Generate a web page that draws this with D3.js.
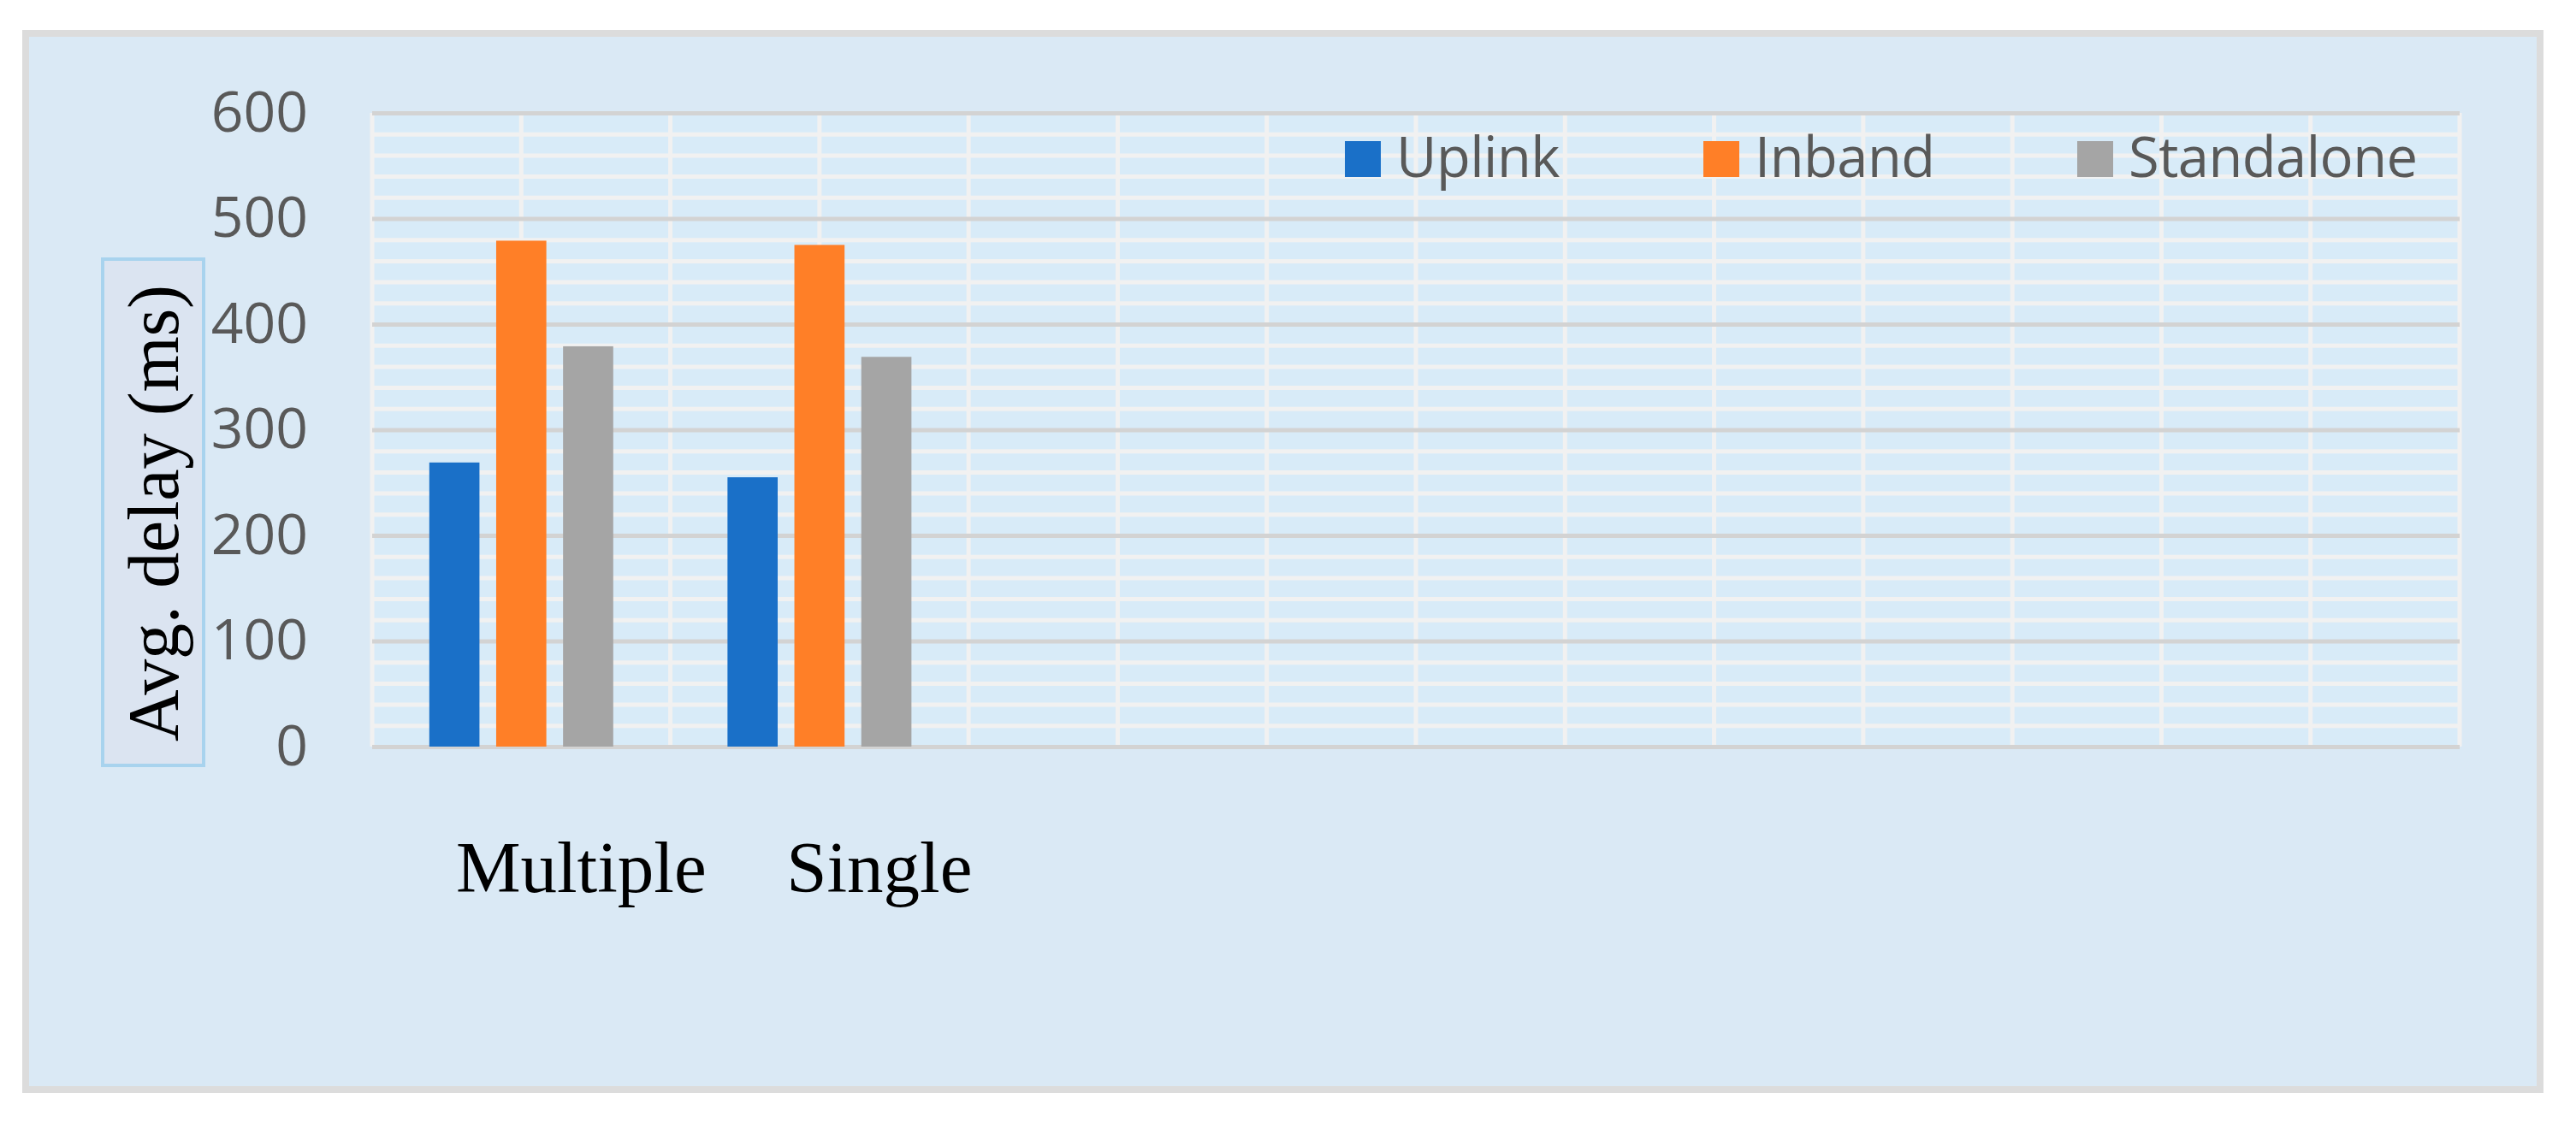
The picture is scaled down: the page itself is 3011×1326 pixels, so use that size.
<!DOCTYPE html>
<html>
<head>
<meta charset="utf-8">
<script src="https://cdn.jsdelivr.net/npm/d3@7"></script>
<style>
  html, body { margin: 0; padding: 0; background: #ffffff; }
  svg { display: block; }
</style>
</head>
<body>
<svg id="chart" width="3011" height="1326"></svg>
<script>
// data
var categories = ["Multiple", "Single"];
var series = ["Uplink", "Inband", "Standalone"];
var uplink = [269, 255];
var inband = [479, 475];
var standalone = [379, 369];
var yTicks = [0, 100, 200, 300, 400, 500, 600];
var slotCount = 7; // the category axis has room for 7 groups, only 2 used

var colors = { Uplink: "#1a70c8", Inband: "#ff7f27", Standalone: "#a5a5a5" };
var values = { Uplink: uplink, Inband: inband, Standalone: standalone };

var svg = d3.select("#chart");

var plot = { left: 435, right: 2875, top: 132, bottom: 873 };

// outer frame
svg.append("rect")
  .attr("x", 30).attr("y", 39)
  .attr("width", 2939).attr("height", 1235)
  .attr("fill", "#dae9f5")
  .attr("stroke", "#dcdcdc")
  .attr("stroke-width", 8);

var x0 = d3.scaleBand()
  .domain(d3.range(slotCount))
  .range([plot.left, plot.right])
  .padding(0);

var groupWidth = 215;
var x1 = d3.scaleBand()
  .domain(series)
  .range([0, groupWidth])
  .paddingInner(0.25);

var y = d3.scaleLinear()
  .domain([0, 600])
  .range([plot.bottom, plot.top]);

// plot background
svg.append("rect")
  .attr("x", plot.left).attr("y", plot.top)
  .attr("width", plot.right - plot.left).attr("height", plot.bottom - plot.top)
  .attr("fill", "#d8ebf8");

// minor horizontal grid (every 20)
var minor = d3.range(0, 601, 20).filter(function(v) { return v % 100 !== 0; });
svg.append("g")
  .attr("transform", "translate(" + plot.left + ",0)")
  .call(d3.axisLeft(y).tickValues(minor).tickSize(-(plot.right - plot.left)).tickFormat(""))
  .call(function(g) {
    g.select(".domain").remove();
    g.selectAll(".tick line").attr("stroke", "#f1f1f1").attr("stroke-width", 5);
  });

// vertical grid: band edges and band centres
var vx = [];
d3.range(slotCount).forEach(function(i) {
  vx.push(x0(i));
  vx.push(x0(i) + x0.bandwidth() / 2);
});
vx.push(plot.right);
svg.append("g").selectAll("line")
  .data(vx)
  .join("line")
  .attr("x1", function(d) { return d; })
  .attr("x2", function(d) { return d; })
  .attr("y1", plot.top)
  .attr("y2", plot.bottom)
  .attr("stroke", "#f1f1f1")
  .attr("stroke-width", 5);

// major horizontal grid
svg.append("g")
  .attr("transform", "translate(" + plot.left + ",0)")
  .call(d3.axisLeft(y).tickValues(yTicks).tickSize(-(plot.right - plot.left)).tickFormat(""))
  .call(function(g) {
    g.select(".domain").remove();
    g.selectAll(".tick line").attr("stroke", "#d3d3d3").attr("stroke-width", 5);
  });

// y tick labels
svg.append("g")
  .attr("transform", "translate(" + plot.left + ",0)")
  .call(d3.axisLeft(y).tickValues(yTicks).tickSize(0).tickPadding(75))
  .call(function(g) {
    g.select(".domain").remove();
    g.selectAll(".tick text")
      .attr("fill", "#595959")
      .style("font-family", "'Open Sans', sans-serif")
      .style("font-size", "66px");
  });

// bars
var groups = svg.append("g").selectAll("g")
  .data(categories)
  .join("g")
  .attr("transform", function(d, i) {
    var slot = i * 2 + 1;
    var cx = x0(Math.floor(slot / 2)) + (slot % 2) * x0.bandwidth() / 2;
    return "translate(" + (cx - groupWidth / 2) + ",0)";
  });

groups.selectAll("rect")
  .data(function(d, i) {
    return series.map(function(s) { return { key: s, value: values[s][i] }; });
  })
  .join("rect")
  .attr("x", function(d) { return x1(d.key); })
  .attr("y", function(d) { return y(d.value); })
  .attr("width", x1.bandwidth())
  .attr("height", function(d) { return y(0) - y(d.value); })
  .attr("fill", function(d) { return colors[d.key]; });

// category labels (sit a bit right of the group centre in the figure)
groups.append("text")
  .attr("x", groupWidth / 2 + 70)
  .attr("y", 1043)
  .attr("text-anchor", "middle")
  .style("font-family", "'Liberation Serif', 'Times New Roman', serif")
  .style("font-size", "85px")
  .attr("fill", "#000")
  .text(function(d) { return d; });

// y axis title in its own box
svg.append("rect")
  .attr("x", 120).attr("y", 303)
  .attr("width", 118).attr("height", 592)
  .attr("fill", "#dbe4f1")
  .attr("stroke", "#a8d3ee")
  .attr("stroke-width", 4);

svg.append("text")
  .attr("transform", "translate(208,600) rotate(-90)")
  .attr("text-anchor", "middle")
  .attr("textLength", 534)
  .attr("lengthAdjust", "spacing")
  .style("font-family", "'Liberation Serif', 'Times New Roman', serif")
  .style("font-size", "84px")
  .attr("fill", "#000")
  .text("Avg. delay (ms)");

// legend, items spaced like the original
var legendOffsets = [0, 419, 856];
var legend = svg.append("g").attr("transform", "translate(1572,0)");
series.forEach(function(s, i) {
  var item = legend.append("g").attr("transform", "translate(" + legendOffsets[i] + ",0)");
  item.append("rect")
    .attr("x", 0).attr("y", 165)
    .attr("width", 42).attr("height", 42)
    .attr("fill", colors[s]);
  item.append("text")
    .attr("x", 60).attr("y", 207)
    .attr("fill", "#595959")
    .style("font-family", "'Open Sans', sans-serif")
    .style("font-size", "65px")
    .style("letter-spacing", "-0.5px")
    .text(s);
});
</script>
</body>
</html>
